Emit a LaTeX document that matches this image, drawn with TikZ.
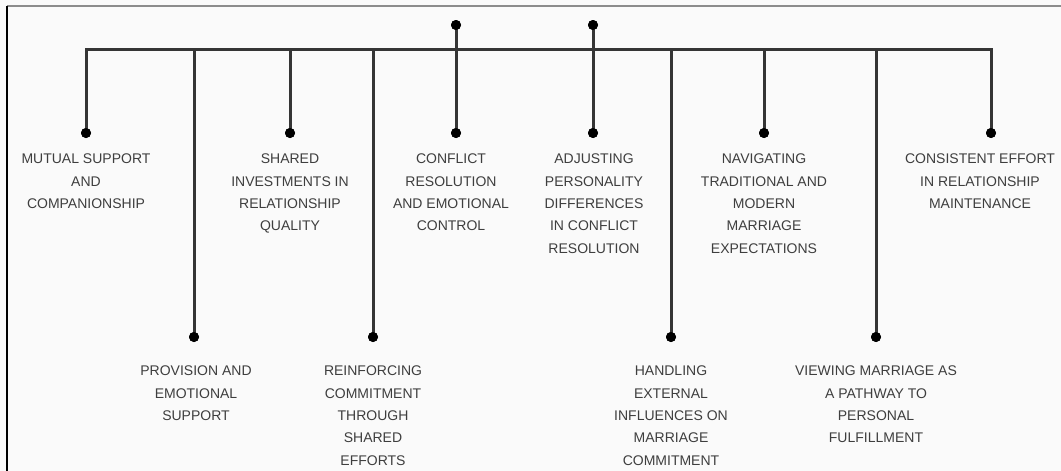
\documentclass[tikz,border=0pt]{standalone}
\usepackage{fontspec}
\setmainfont{Liberation Sans}
\definecolor{bgc}{HTML}{FAFAFA}
\definecolor{linec}{HTML}{353535}
\definecolor{txtc}{HTML}{3E3E3E}
\begin{document}
\begin{tikzpicture}[x=1pt,y=-1pt,
  conn/.style={draw=linec,line width=3pt,line join=miter},
  dotnode/.style={circle,fill=black,inner sep=0pt,minimum size=10pt},
  lbl/.style={anchor=north,inner sep=0pt,align=center,text=txtc,font=\fontsize{14}{22.3}\selectfont}]
\fill[bgc] (0,0) rectangle (1061,471);
\useasboundingbox (0,0) rectangle (1061,471);
\draw[draw=gray!90,line width=2pt] (7,6) -- (1061,6);
\draw[draw=black,line width=2pt] (7,6) -- (7,471);
% junctions on the top bar
\coordinate (j1) at (86,49);
\coordinate (j2) at (194,49);
\coordinate (j3) at (290,49);
\coordinate (j4) at (373,49);
\coordinate (j7) at (671,49);
\coordinate (j8) at (764,49);
\coordinate (j9) at (876,49);
\coordinate (j10) at (991,49);
% dots
\node[dotnode] (d1) at (86,133) {};
\node[dotnode] (d2) at (194,337) {};
\node[dotnode] (d3) at (290,133) {};
\node[dotnode] (d4) at (373,337) {};
\node[dotnode] (t5) at (456,25) {};
\node[dotnode] (d5) at (456,133) {};
\node[dotnode] (t6) at (593,25) {};
\node[dotnode] (d6) at (593,133) {};
\node[dotnode] (d7) at (671,337) {};
\node[dotnode] (d8) at (764,133) {};
\node[dotnode] (d9) at (876,337) {};
\node[dotnode] (d10) at (991,133) {};
% connectors
\draw[conn] (d1.center) -- (j1) -- (j10) -- (d10.center);
\draw[conn] (j2) -- (d2.center);
\draw[conn] (j3) -- (d3.center);
\draw[conn] (j4) -- (d4.center);
\draw[conn] (t5.center) -- (d5.center);
\draw[conn] (t6.center) -- (d6.center);
\draw[conn] (j7) -- (d7.center);
\draw[conn] (j8) -- (d8.center);
\draw[conn] (j9) -- (d9.center);
% redraw dots on top
\foreach \n in {d1,d2,d3,d4,t5,d5,t6,d6,d7,d8,d9,d10} {\fill[black] (\n.center) circle (5pt);}
% labels
\node[lbl] (l1) at (86,154) {MUTUAL SUPPORT\\AND\\COMPANIONSHIP};
\node[lbl] (l2) at (196,366) {PROVISION AND\\EMOTIONAL\\SUPPORT};
\node[lbl] (l3) at (290,154) {SHARED\\INVESTMENTS IN\\RELATIONSHIP\\QUALITY};
\node[lbl] (l4) at (373,366) {REINFORCING\\COMMITMENT\\THROUGH\\SHARED\\EFFORTS};
\node[lbl] (l5) at (451,154) {CONFLICT\\RESOLUTION\\AND EMOTIONAL\\CONTROL};
\node[lbl] (l6) at (594,154) {ADJUSTING\\PERSONALITY\\DIFFERENCES\\IN CONFLICT\\RESOLUTION};
\node[lbl] (l7) at (671,366) {HANDLING\\EXTERNAL\\INFLUENCES ON\\MARRIAGE\\COMMITMENT};
\node[lbl] (l8) at (764,154) {NAVIGATING\\TRADITIONAL AND\\MODERN\\MARRIAGE\\EXPECTATIONS};
\node[lbl] (l9) at (876,366) {VIEWING MARRIAGE AS\\A PATHWAY TO\\PERSONAL\\FULFILLMENT};
\node[lbl] (l10) at (980,154) {CONSISTENT EFFORT\\IN RELATIONSHIP\\MAINTENANCE};
\end{tikzpicture}
\end{document}
